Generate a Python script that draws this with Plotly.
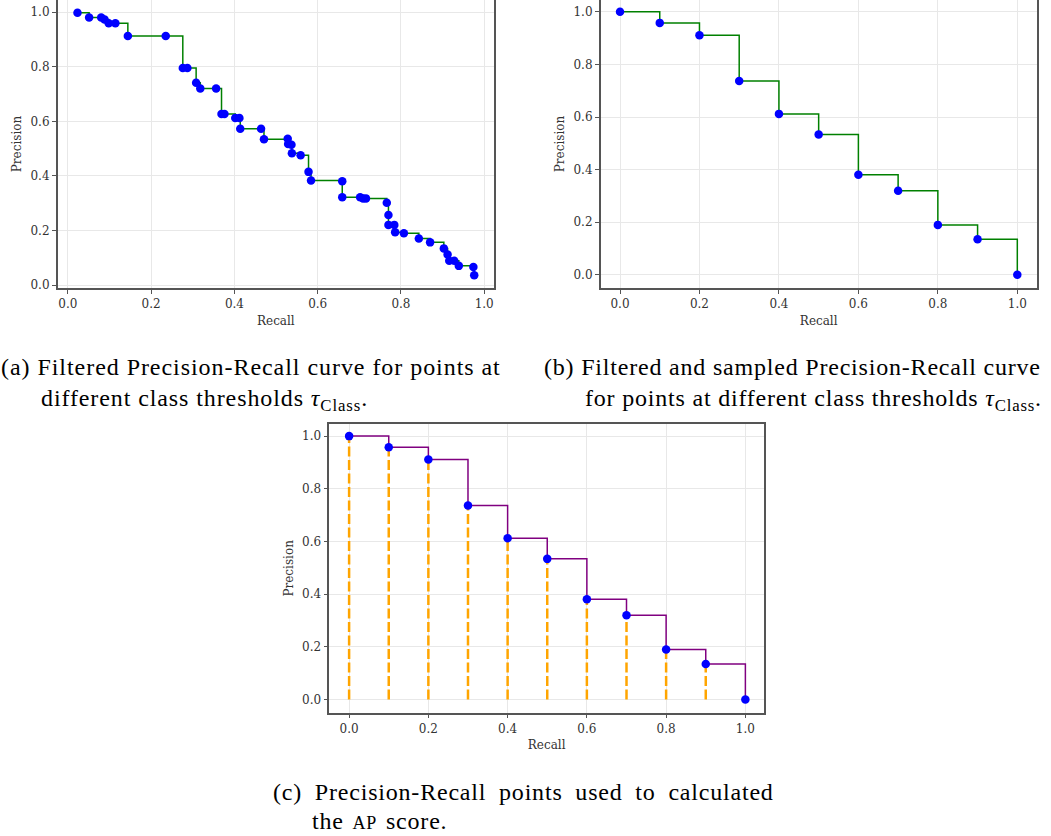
import plotly.graph_objects as go

# ---------------- data ----------------
recall_a = [0.023, 0.051, 0.080, 0.088, 0.098, 0.114, 0.144, 0.235, 0.276, 0.287,
            0.308, 0.318, 0.356, 0.369, 0.376, 0.402, 0.412, 0.414, 0.464, 0.471,
            0.528, 0.529, 0.537, 0.538, 0.559, 0.578, 0.584, 0.659, 0.659, 0.702,
            0.709, 0.716, 0.766, 0.770, 0.770, 0.784, 0.786, 0.807, 0.843, 0.870,
            0.903, 0.912, 0.916, 0.928, 0.939, 0.974, 0.976]
precision_a = [0.997, 0.980, 0.980, 0.973, 0.959, 0.959, 0.912, 0.912, 0.795, 0.795,
               0.741, 0.720, 0.720, 0.627, 0.627, 0.612, 0.612, 0.573, 0.573, 0.534,
               0.536, 0.517, 0.514, 0.483, 0.476, 0.415, 0.383, 0.381, 0.322, 0.322,
               0.318, 0.318, 0.302, 0.257, 0.221, 0.221, 0.194, 0.190, 0.171, 0.157,
               0.135, 0.113, 0.090, 0.090, 0.071, 0.067, 0.037]

recall_b = [0.0, 0.1, 0.2, 0.3, 0.4, 0.5, 0.6, 0.7, 0.8, 0.9, 1.0]
precision_b = [1.0, 0.958, 0.911, 0.737, 0.612, 0.534, 0.381, 0.320, 0.190, 0.135, 0.0]

tick_vals = [0.0, 0.2, 0.4, 0.6, 0.8, 1.0]
tick_text = ["0.0", "0.2", "0.4", "0.6", "0.8", "1.0"]

captions = {
    "a": ["(a) Filtered Precision-Recall curve for points at",
          "different class thresholds <i>τ</i><sub>Class</sub>."],
    "b": ["(b) Filtered and sampled Precision-Recall curve",
          "for points at different class thresholds <i>τ</i><sub>Class</sub>."],
    "c": ["(c) Precision-Recall points used to calculated",
          "the <span style='font-size:18px'>AP</span> score."],
}

# ---------------- layout helpers ----------------
W, H = 1051, 836


def fx(px):
    return px / W


def fy(py):
    return 1 - py / H


TICK_FONT = dict(family="DejaVu Serif", size=12, color="#333333")
CAP_FONT = dict(family="'Liberation Serif', 'Times New Roman', serif", size=24, color="black")


def axis(domain, rng, title, standoff):
    return dict(
        domain=domain, range=rng, tickmode="array", tickvals=tick_vals, ticktext=tick_text,
        showgrid=True, gridcolor="#e8e8e8", gridwidth=1, zeroline=False,
        showline=True, mirror=True, linecolor="#555555", linewidth=1.5,
        ticks="outside", ticklen=4, tickwidth=1, tickcolor="#555555",
        tickfont=TICK_FONT, automargin=False,
        title=dict(text=title, font=dict(family="DejaVu Serif", size=12, color="#333333"),
                   standoff=standoff),
    )


fig = go.Figure()

# panel (a)
fig.add_trace(go.Scatter(x=recall_a, y=precision_a, mode="lines",
                         line=dict(color="#008000", width=1.5, shape="hv"),
                         xaxis="x", yaxis="y", hoverinfo="skip"))
fig.add_trace(go.Scatter(x=recall_a, y=precision_a, mode="markers",
                         marker=dict(color="#0000ff", size=8.5),
                         xaxis="x", yaxis="y"))

# panel (b)
fig.add_trace(go.Scatter(x=recall_b, y=precision_b, mode="lines",
                         line=dict(color="#008000", width=1.5, shape="hv"),
                         xaxis="x2", yaxis="y2", hoverinfo="skip"))
fig.add_trace(go.Scatter(x=recall_b, y=precision_b, mode="markers",
                         marker=dict(color="#0000ff", size=8.5),
                         xaxis="x2", yaxis="y2"))

# panel (c)
vx, vy = [], []
for r, p in zip(recall_b, precision_b):
    vx += [r, r, None]
    vy += [0.0, p, None]
fig.add_trace(go.Scatter(x=vx, y=vy, mode="lines",
                         line=dict(color="#ffa500", width=2.5, dash="10px,3.5px"),
                         xaxis="x3", yaxis="y3", hoverinfo="skip"))
fig.add_trace(go.Scatter(x=recall_b, y=precision_b, mode="lines",
                         line=dict(color="#800080", width=1.5, shape="hv"),
                         xaxis="x3", yaxis="y3", hoverinfo="skip"))
fig.add_trace(go.Scatter(x=recall_b, y=precision_b, mode="markers",
                         marker=dict(color="#0000ff", size=8.5),
                         xaxis="x3", yaxis="y3"))

fig.update_layout(
    width=W, height=H, margin=dict(l=0, r=0, t=0, b=0),
    paper_bgcolor="white", plot_bgcolor="white", showlegend=False,
    xaxis=axis([fx(57.7), fx(494)], [-0.0245, 1.0235], "Recall", 6),
    yaxis=axis([fy(288), 1.0], [-0.01, 1.044], "Precision", 6),
    xaxis2=axis([fx(600.7), fx(1036.7)], [-0.0486, 1.0488], "Recall", 6),
    yaxis2=axis([fy(288), 1.0], [-0.05, 1.045], "Precision", 6),
    xaxis3=axis([fx(329.3), fx(764)], [-0.05, 1.047], "Recall", 6),
    yaxis3=axis([fy(712.7), fy(424)], [-0.05, 1.046], "Precision", 6),
)
fig.layout.xaxis2.anchor = "y2"
fig.layout.yaxis2.anchor = "x2"
fig.layout.xaxis3.anchor = "y3"
fig.layout.yaxis3.anchor = "x3"

cap_pos = {
    "a": [(0, 367), (40, 400)],
    "b": [(543, 367), (584, 400)],
    "c": [(272, 792), (311, 821)],
}
cap_style = {
    "a": ["letter-spacing:0.95px", "letter-spacing:0.9px"],
    "b": ["letter-spacing:0.8px", "letter-spacing:0.8px"],
    "c": ["letter-spacing:0.8px;word-spacing:6px", "letter-spacing:0.8px;word-spacing:2px"],
}
for key, lines in captions.items():
    for text, (px, py), st in zip(lines, cap_pos[key], cap_style[key]):
        fig.add_annotation(text=f"<span style='{st}'>{text}</span>", x=fx(px), y=fy(py),
                           xref="paper", yref="paper",
                           xanchor="left", yanchor="middle", showarrow=False,
                           font=CAP_FONT, borderpad=0)

fig.write_html("out.html")
